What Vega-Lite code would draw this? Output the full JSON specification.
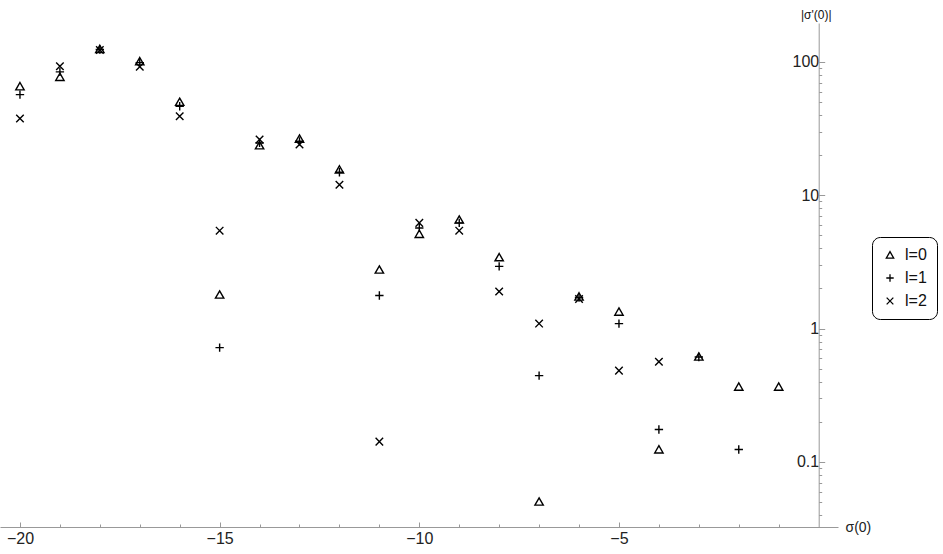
{
  "$schema": "https://vega.github.io/schema/vega-lite/v6.json",
  "autosize": "none",
  "width": 838,
  "height": 504,
  "padding": {"left": 0, "top": 23, "right": 105, "bottom": 27},
  "background": "white",
  "config": {
    "view": {"stroke": null},
    "font": "Liberation Sans"
  },
  "data": {
    "values": [
      {"s": -20, "v": 65.7, "l": "l=0"}, {"s": -20, "v": 56.9, "l": "l=1"}, {"s": -20, "v": 37.6, "l": "l=2"},
      {"s": -19, "v": 77.3, "l": "l=0"}, {"s": -19, "v": 84.3, "l": "l=1"}, {"s": -19, "v": 92.9, "l": "l=2"},
      {"s": -18, "v": 125, "l": "l=0"}, {"s": -18, "v": 124, "l": "l=1"}, {"s": -18, "v": 123, "l": "l=2"},
      {"s": -17, "v": 101.2, "l": "l=0"}, {"s": -17, "v": 98.9, "l": "l=1"}, {"s": -17, "v": 91.9, "l": "l=2"},
      {"s": -16, "v": 50.2, "l": "l=0"}, {"s": -16, "v": 46.5, "l": "l=1"}, {"s": -16, "v": 39.1, "l": "l=2"},
      {"s": -15, "v": 1.8, "l": "l=0"}, {"s": -15, "v": 0.72, "l": "l=1"}, {"s": -15, "v": 5.43, "l": "l=2"},
      {"s": -14, "v": 23.7, "l": "l=0"}, {"s": -14, "v": 24.7, "l": "l=1"}, {"s": -14, "v": 26.2, "l": "l=2"},
      {"s": -13, "v": 26.6, "l": "l=0"}, {"s": -13, "v": 25.4, "l": "l=1"}, {"s": -13, "v": 24.0, "l": "l=2"},
      {"s": -12, "v": 15.6, "l": "l=0"}, {"s": -12, "v": 14.9, "l": "l=1"}, {"s": -12, "v": 12.0, "l": "l=2"},
      {"s": -11, "v": 2.77, "l": "l=0"}, {"s": -11, "v": 1.77, "l": "l=1"}, {"s": -11, "v": 0.142, "l": "l=2"},
      {"s": -10, "v": 5.13, "l": "l=0"}, {"s": -10, "v": 5.69, "l": "l=1"}, {"s": -10, "v": 6.21, "l": "l=2"},
      {"s": -9, "v": 6.57, "l": "l=0"}, {"s": -9, "v": 6.21, "l": "l=1"}, {"s": -9, "v": 5.43, "l": "l=2"},
      {"s": -8, "v": 3.43, "l": "l=0"}, {"s": -8, "v": 2.93, "l": "l=1"}, {"s": -8, "v": 1.9, "l": "l=2"},
      {"s": -7, "v": 0.0504, "l": "l=0"}, {"s": -7, "v": 0.444, "l": "l=1"}, {"s": -7, "v": 1.09, "l": "l=2"},
      {"s": -6, "v": 1.74, "l": "l=0"}, {"s": -6, "v": 1.71, "l": "l=1"}, {"s": -6, "v": 1.67, "l": "l=2"},
      {"s": -5, "v": 1.34, "l": "l=0"}, {"s": -5, "v": 1.09, "l": "l=1"}, {"s": -5, "v": 0.484, "l": "l=2"},
      {"s": -4, "v": 0.124, "l": "l=0"}, {"s": -4, "v": 0.175, "l": "l=1"}, {"s": -4, "v": 0.565, "l": "l=2"},
      {"s": -3, "v": 0.617, "l": "l=0"}, {"s": -3, "v": 0.612, "l": "l=1"},
      {"s": -2, "v": 0.367, "l": "l=0"}, {"s": -2, "v": 0.124, "l": "l=1"},
      {"s": -1, "v": 0.367, "l": "l=0"}
    ]
  },
  "mark": {"type": "point", "filled": false, "color": "black", "strokeWidth": 1.4, "size": 70, "opacity": 1},
  "encoding": {
    "x": {
      "field": "s", "type": "quantitative",
      "scale": {"domain": [-20.5, 0.485], "nice": false, "zero": false},
      "axis": {
        "values": [-20, -19, -18, -17, -16, -15, -14, -13, -12, -11, -10, -9, -8, -7, -6, -5, -4, -3, -2, -1],
        "labelExpr": "datum.value % 5 === 0 ? '−' + abs(datum.value) : ''",
        "labelOverlap": false,
        "labelFlush": false,
        "labelFontSize": 16,
        "labelColor": "#222",
        "labelPadding": 8,
        "domainColor": "#999",
        "domainWidth": 1,
        "tickColor": "#999",
        "tickSize": {"condition": {"test": "datum.value % 5 === 0", "value": -5}, "value": -3},
        "grid": false,
        "title": "σ(0)",
        "titleX": 845,
        "titleY": 0,
        "titleAlign": "left",
        "titleBaseline": "middle",
        "titleAnchor": null,
        "titleFontSize": 14,
        "titleFontWeight": "normal",
        "titleColor": "#222"
      }
    },
    "y": {
      "field": "v", "type": "quantitative",
      "scale": {"type": "log", "domain": [0.0325, 196], "nice": false},
      "axis": {
        "orient": "left",
        "offset": -818.7,
        "values": [0.04, 0.05, 0.06, 0.07, 0.08, 0.09, 0.1, 0.2, 0.3, 0.4, 0.5, 0.6, 0.7, 0.8, 0.9, 1, 2, 3, 4, 5, 6, 7, 8, 9, 10, 20, 30, 40, 50, 60, 70, 80, 90, 100],
        "labelExpr": "datum.value === 0.1 ? '0.1' : datum.value === 1 ? '1' : datum.value === 10 ? '10' : datum.value === 100 ? '100' : ''",
        "labelOverlap": false,
        "labelFlush": false,
        "labelFontSize": 16,
        "labelColor": "#222",
        "labelPadding": 6,
        "domainColor": "#999",
        "tickColor": "#999",
        "tickSize": {"condition": {"test": "datum.value === 0.1 || datum.value === 1 || datum.value === 10 || datum.value === 100", "value": -6}, "value": -3},
        "grid": false,
        "title": "|σ'(0)|",
        "titleAngle": 0,
        "titleX": -3,
        "titleY": -9,
        "titleAlign": "center",
        "titleBaseline": "middle",
        "titleAnchor": null,
        "titleFontSize": 12,
        "titleFontWeight": "normal",
        "titleColor": "#111"
      }
    },
    "shape": {
      "field": "l", "type": "nominal",
      "scale": {
        "domain": ["l=0", "l=1", "l=2"],
        "range": ["M0,-0.9L1,0.85L-1,0.85Z", "M-1,0L1,0M0,-1L0,1", "M-0.9,-0.9L0.9,0.9M-0.9,0.9L0.9,-0.9"]
      },
      "legend": {
        "orient": "none",
        "legendX": 872,
        "legendY": 214,
        "title": null,
        "strokeColor": "black",
        "cornerRadius": 8,
        "padding": 10,
        "fillColor": "white",
        "labelFontSize": 16,
        "labelColor": "#111",
        "labelOffset": 7,
        "rowPadding": 7,
        "symbolSize": 55,
        "symbolStrokeWidth": 1.3,
        "symbolStrokeColor": "black"
      }
    }
  }
}
